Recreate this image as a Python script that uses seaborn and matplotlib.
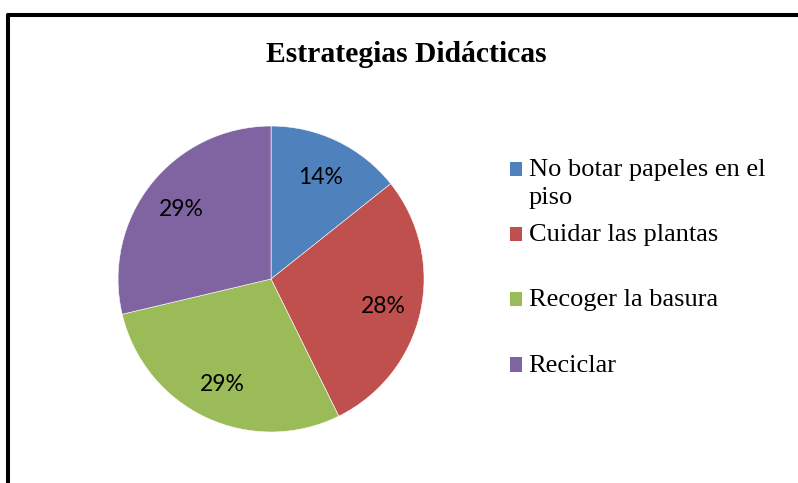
import matplotlib
matplotlib.use("Agg")
import matplotlib.pyplot as plt
from matplotlib.lines import Line2D
from matplotlib.patches import Patch, Rectangle
from matplotlib.legend_handler import HandlerPatch
import seaborn as sns

categories = ["No botar papeles en el\npiso", "Cuidar las plantas\n", "Recoger la basura\n", "Reciclar\n"]
values = [14.3, 28.4, 28.6, 28.7]
pct_labels = ["14%", "28%", "29%", "29%"]
title = "Estrategias Didácticas"

sns.set_theme(style="white")
plt.rcParams["font.family"] = ["Liberation Serif", "DejaVu Serif"]
plt.rcParams["text.color"] = "black"
colors = sns.color_palette(["#4F81BD", "#C0504D", "#9BBB59", "#8064A2"])

fig = plt.figure(figsize=(7.98, 4.83), dpi=100)
ax = fig.add_axes([0.1479, 0.1056, 0.3835, 0.6335])
wedges, texts = ax.pie(values, colors=colors, startangle=90, counterclock=False,
                       labels=pct_labels, labeldistance=0.75, radius=1,
                       wedgeprops=dict(edgecolor="white", linewidth=0.4),
                       textprops=dict(family="Lato", fontsize=16.5, color="black"))
for t in texts:
    t.set_ha("center"); t.set_va("center_baseline")
ax.set_xlim(-1, 1); ax.set_ylim(-1, 1)
ax.set_aspect("equal")
ax.axis("off")

LEG_FS = 19


def top_aligned_square(legend, orig_handle, xdescent, ydescent, width, height, fontsize):
    return Rectangle((-xdescent, -ydescent + 10.5), width, height)


handles = [Patch(facecolor=c, edgecolor="none") for c in colors]
leg = fig.legend(handles, categories, loc="upper left", bbox_to_anchor=(0.639, 0.671),
                 frameon=False, fontsize=LEG_FS, handlelength=0.455, handleheight=0.455,
                 handletextpad=0.25, labelspacing=0.56, borderpad=0, borderaxespad=0,
                 handler_map={Patch: HandlerPatch(patch_func=top_aligned_square)})
for t in leg.get_texts():
    t.set_linespacing(1.38)
    t.set_color("black")

fig.text(0.509, 0.888, title, ha="center", va="center", fontsize=21.3, fontweight="bold", color="black")

fig.add_artist(Line2D([0.0094, 0.0094], [0, 0.969], color="black", lw=2.9, transform=fig.transFigure))
fig.add_artist(Line2D([0.0094, 1.0], [0.969, 0.969], color="black", lw=2.9, transform=fig.transFigure))

fig.savefig("out.png", dpi=100)
